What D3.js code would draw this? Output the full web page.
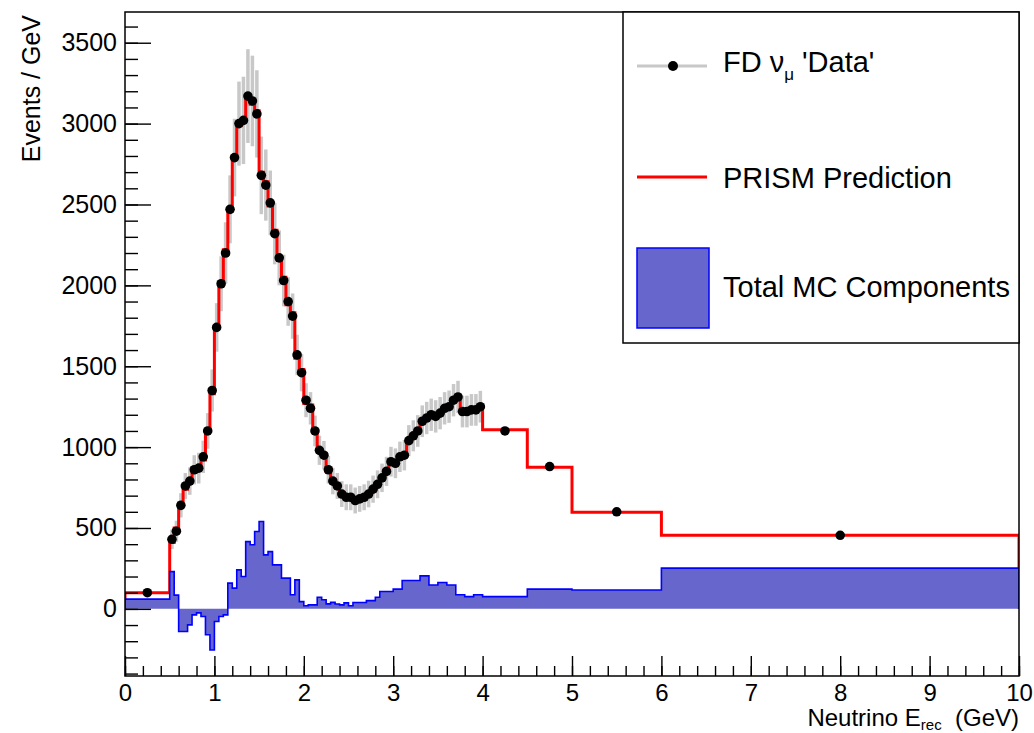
<!DOCTYPE html>
<html>
<head>
<meta charset="utf-8">
<script src="https://cdn.jsdelivr.net/npm/d3@7"></script>
<style>
  body { margin: 0; background: #fff; }
  text { font-family: "Liberation Sans", Arial, Helvetica, sans-serif; }
</style>
</head>
<body>
<div id="chart"></div>
<script>
// bin edges (GeV): one wide bin, 0.05 GeV bins from 0.5 to 4, then wide bins
const binEdges = [0,
  0.5, 0.55, 0.6, 0.65, 0.7, 0.75, 0.8, 0.85, 0.9, 0.95,
  1, 1.05, 1.1, 1.15, 1.2, 1.25, 1.3, 1.35, 1.4, 1.45,
  1.5, 1.55, 1.6, 1.65, 1.7, 1.75, 1.8, 1.85, 1.9, 1.95,
  2, 2.05, 2.1, 2.15, 2.2, 2.25, 2.3, 2.35, 2.4, 2.45,
  2.5, 2.55, 2.6, 2.65, 2.7, 2.75, 2.8, 2.85, 2.9, 2.95,
  3, 3.05, 3.1, 3.15, 3.2, 3.25, 3.3, 3.35, 3.4, 3.45,
  3.5, 3.55, 3.6, 3.65, 3.7, 3.75, 3.8, 3.85, 3.9, 3.95,
  4, 4.5, 5, 6, 10];

// PRISM prediction (events / GeV)
const predValues = [100,
  410, 500, 655, 740, 800, 850, 880, 920, 1110, 1330,
  1750, 2000, 2220, 2460, 2800, 2990, 3010, 3180, 3120, 3080,
  2700, 2640, 2490, 2340, 2160, 2050, 1880, 1830, 1550, 1480,
  1270, 1260, 1095, 970, 960, 850, 800, 750, 720, 700,
  680, 675, 675, 680, 720, 730, 780, 800, 860, 900,
  905, 930, 940, 1045, 1060, 1107, 1150, 1185, 1190, 1195,
  1200, 1243, 1245, 1300, 1305, 1230, 1230, 1225, 1240, 1245,
  1107, 876, 598, 455];

// FD numu 'Data'
const dataValues = [100,
  430, 480, 640, 760, 790, 860, 870, 940, 1100, 1350,
  1740, 2010, 2200, 2470, 2790, 3000, 3020, 3170, 3140, 3060,
  2680, 2620, 2510, 2320, 2170, 2030, 1900, 1810, 1570, 1460,
  1290, 1240, 1100, 980, 950, 860, 790, 760, 710, 690,
  690, 670, 680, 690, 710, 740, 770, 810, 850, 910,
  900, 940, 950, 1040, 1070, 1100, 1160, 1180, 1200, 1190,
  1210, 1240, 1250, 1290, 1310, 1220, 1220, 1230, 1230, 1250,
  1100, 880, 600, 455];

const dataErrors = [10,
  60, 65, 75, 80, 85, 90, 95, 100, 110, 130,
  150, 170, 190, 210, 240, 260, 270, 290, 280, 270,
  240, 220, 200, 190, 170, 160, 150, 140, 125, 115,
  105, 100, 95, 90, 88, 85, 82, 80, 80, 80,
  80, 80, 80, 80, 82, 84, 86, 88, 90, 92,
  92, 94, 94, 96, 96, 98, 98, 100, 100, 100,
  100, 100, 100, 100, 100, 98, 98, 98, 98, 98,
  20, 20, 15, 8];

// Total MC components
const mcValues = [60,
  230, 85, -140, -140, -99, -37, -25, -47, -160, -254,
  -78, -47, -37, 159, 128, 241, 200, 416, 396, 478,
  540, 334, 354, 272, 272, 190, 190, 87, 179, 45,
  19, 25, 25, 72, 56, 31, 40, 30, 25, 37,
  19, 39, 39, 39, 51, 51, 72, 107, 107, 107,
  122, 122, 175, 175, 175, 175, 204, 204, 148, 148,
  163, 163, 148, 148, 87, 87, 76, 76, 87, 87,
  76, 122, 117, 252];

const xTicks = [0, 1, 2, 3, 4, 5, 6, 7, 8, 9, 10];
const yTicks = [0, 500, 1000, 1500, 2000, 2500, 3000, 3500];

const W = 1034, H = 733;
const frame = {left: 125, right: 1019, top: 12, bottom: 676};

const svg = d3.select("#chart").append("svg")
  .attr("width", W)
  .attr("height", H);

const x = d3.scaleLinear().domain([0, 10]).range([frame.left, frame.right]);
const y = d3.scaleLinear().domain([-415, 3690]).range([frame.bottom, frame.top]);

svg.append("clipPath").attr("id", "clip")
  .append("rect")
  .attr("x", frame.left).attr("y", frame.top)
  .attr("width", frame.right - frame.left)
  .attr("height", frame.bottom - frame.top);

const plot = svg.append("g").attr("clip-path", "url(#clip)");

// histogram outline points, dropping to zero at both ends
const stepPoints = vals => {
  const pts = [[binEdges[0], 0]];
  vals.forEach((v, i) => {
    pts.push([binEdges[i], v], [binEdges[i + 1], v]);
  });
  pts.push([binEdges[binEdges.length - 1], 0]);
  return pts;
};

const centers = dataValues.map((v, i) => ({
  x: (binEdges[i] + binEdges[i + 1]) / 2,
  v: v,
  e: dataErrors[i]
}));

// data error bars (grey)
plot.append("g").selectAll("line").data(centers)
  .join("line")
  .attr("x1", d => x(d.x))
  .attr("x2", d => x(d.x))
  .attr("y1", d => y(d.v - d.e))
  .attr("y2", d => y(d.v + d.e))
  .attr("stroke", "#c8c8c8")
  .attr("stroke-width", 3.5);

// prediction
const line = d3.line().x(d => x(d[0])).y(d => y(d[1]));
plot.append("path")
  .attr("d", line(stepPoints(predValues)))
  .attr("fill", "none")
  .attr("stroke", "#ff0000")
  .attr("stroke-width", 3);

// MC components
const mcPts = stepPoints(mcValues);
const area = d3.area().x(d => x(d[0])).y0(y(0)).y1(d => y(d[1]));
plot.append("path")
  .attr("d", area(mcPts))
  .attr("fill", "#6666cc");
plot.append("path")
  .attr("d", line(mcPts))
  .attr("fill", "none")
  .attr("stroke", "#0000ff")
  .attr("stroke-width", 1.6);

// data markers
plot.append("g").selectAll("circle").data(centers)
  .join("circle")
  .attr("cx", d => x(d.x))
  .attr("cy", d => y(d.v))
  .attr("r", 4.8)
  .attr("fill", "#000");

// frame
svg.append("rect")
  .attr("x", frame.left).attr("y", frame.top)
  .attr("width", frame.right - frame.left)
  .attr("height", frame.bottom - frame.top)
  .attr("fill", "none")
  .attr("stroke", "#000")
  .attr("stroke-width", 1.5);

// x axis: ticks pointing inward
const xMinorG = svg.append("g")
  .attr("transform", `translate(0,${frame.bottom})`)
  .call(d3.axisBottom(x).tickValues(x.ticks(50)).tickSize(-10).tickFormat(""));
xMinorG.select(".domain").remove();
const xAxisG = svg.append("g")
  .attr("transform", `translate(0,${frame.bottom})`)
  .call(d3.axisBottom(x).tickValues(xTicks).tickSize(-20).tickPadding(8).tickFormat(d3.format("d")));
xAxisG.select(".domain").remove();
xAxisG.selectAll("text")
  .attr("font-size", 24)
  .attr("fill", "#000")
  .style("font-family", '"Liberation Sans", Arial, sans-serif');

// y axis
const yMinorG = svg.append("g")
  .attr("transform", `translate(${frame.left},0)`)
  .call(d3.axisLeft(y).tickValues(y.ticks(40)).tickSize(-13).tickFormat(""));
yMinorG.select(".domain").remove();
const yAxisG = svg.append("g")
  .attr("transform", `translate(${frame.left},0)`)
  .call(d3.axisLeft(y).tickValues(yTicks).tickSize(-26).tickPadding(8).tickFormat(d3.format("d")));
yAxisG.select(".domain").remove();
yAxisG.selectAll("text")
  .attr("font-size", 25)
  .attr("fill", "#000")
  .style("font-family", '"Liberation Sans", Arial, sans-serif');

svg.selectAll(".tick line")
  .attr("stroke", "#000")
  .attr("stroke-width", 1.4);

// axis titles
const xTitle = svg.append("text")
  .attr("x", frame.right)
  .attr("y", 726)
  .attr("text-anchor", "end")
  .attr("font-size", 24)
  .attr("fill", "#000");
xTitle.append("tspan").text("Neutrino E");
xTitle.append("tspan").attr("font-size", 15).attr("dy", 4).text("rec");
xTitle.append("tspan").attr("dy", -4).text("\u00a0 (GeV)");

svg.append("text")
  .attr("transform", "translate(40,15) rotate(-90)")
  .attr("text-anchor", "end")
  .attr("font-size", 25)
  .attr("fill", "#000")
  .text("Events / GeV");

// legend
const legend = svg.append("g");
legend.append("rect")
  .attr("x", 623).attr("y", frame.top)
  .attr("width", frame.right - 623)
  .attr("height", 343 - frame.top)
  .attr("fill", "#fff")
  .attr("stroke", "#000")
  .attr("stroke-width", 1.5);

legend.append("line")
  .attr("x1", 637).attr("x2", 707).attr("y1", 66).attr("y2", 66)
  .attr("stroke", "#c8c8c8").attr("stroke-width", 3);
legend.append("circle")
  .attr("cx", 673).attr("cy", 66).attr("r", 5).attr("fill", "#000");
const l1 = legend.append("text")
  .attr("x", 723).attr("y", 72)
  .attr("font-size", 29).attr("fill", "#000");
l1.append("tspan").text("FD \u03bd");
l1.append("tspan").attr("font-size", 17).attr("dy", 8).text("\u03bc");
l1.append("tspan").attr("dy", -8).text(" 'Data'");

legend.append("line")
  .attr("x1", 637).attr("x2", 707).attr("y1", 177).attr("y2", 177)
  .attr("stroke", "#ff0000").attr("stroke-width", 3);
legend.append("text")
  .attr("x", 723).attr("y", 188)
  .attr("font-size", 29).attr("fill", "#000")
  .text("PRISM Prediction");

legend.append("rect")
  .attr("x", 637).attr("y", 248).attr("width", 72).attr("height", 80)
  .attr("fill", "#6666cc")
  .attr("stroke", "#0000ff").attr("stroke-width", 1.5);
legend.append("text")
  .attr("x", 723).attr("y", 297)
  .attr("font-size", 29).attr("fill", "#000")
  .text("Total MC Components");
</script>
</body>
</html>
